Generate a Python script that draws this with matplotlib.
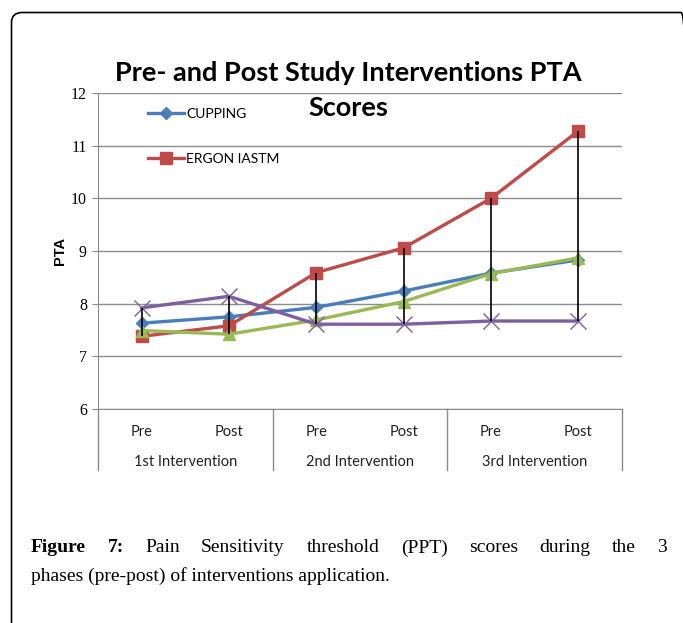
import numpy as np
import matplotlib.pyplot as plt
from matplotlib.patches import FancyBboxPatch
from matplotlib.lines import Line2D
from matplotlib.font_manager import FontProperties

# Данные
phases = ['Pre', 'Post', 'Pre', 'Post', 'Pre', 'Post']
groups = ['1st Intervention', '2nd Intervention', '3rd Intervention']
cupping = [7.63, 7.75, 7.93, 8.24, 8.58, 8.83]
ergon = [7.38, 7.58, 8.59, 9.06, 10.0, 11.28]
green_series = [7.49, 7.42, 7.69, 8.04, 8.57, 8.87]
purple_series = [7.92, 8.14, 7.61, 7.61, 7.67, 7.67]

W, H = 683, 623
fig = plt.figure(figsize=(W / 100, H / 100), dpi=100)


def fx(px):
    return px / W


def fy(py):
    return 1 - py / H


# рамка вокруг рисунка (правый и нижний края за пределами картинки)
frame = FancyBboxPatch((fx(11.5), fy(660)), fx(692) - fx(11.5),
                       fy(12.5) - fy(660),
                       boxstyle='round,pad=0,rounding_size=0.016',
                       transform=fig.transFigure, fill=False,
                       edgecolor='black', linewidth=1.2)
fig.add_artist(frame)

ax = fig.add_axes([fx(98), fy(409), fx(622) - fx(98), fy(93) - fy(409)])
x = np.arange(len(phases))

lw = 2.4
l1, = ax.plot(x, cupping, color='#4A7EBB', lw=lw, marker='D', ms=6,
              label='CUPPING', zorder=4)
l2, = ax.plot(x, ergon, color='#BE4B48', lw=lw, marker='s', ms=8,
              label='ERGON IASTM', zorder=4)
ax.plot(x, green_series, color='#98B954', lw=lw, marker='^', ms=8, zorder=4)
ax.plot(x, purple_series, color='#7D60A0', lw=lw, marker='x', ms=11,
        mew=1.0, zorder=4)

# вертикальные линии максимум-минимум
allv = np.array([cupping, ergon, green_series, purple_series])
ax.vlines(x, allv.min(axis=0), allv.max(axis=0), color='black', lw=1.2,
          zorder=5)

ax.set_xlim(-0.5, 5.5)
ax.set_ylim(6, 12)
ax.set_yticks(range(6, 13))
ax.yaxis.grid(True, color='#8c8c8c', lw=1.0)
ax.set_axisbelow(True)
for s in ['top', 'right']:
    ax.spines[s].set_visible(False)
ax.spines['left'].set_color('#8c8c8c')
ax.spines['bottom'].set_color('#8c8c8c')
ax.set_xticks([])
ax.tick_params(axis='y', length=4, color='#8c8c8c', pad=4)
for lab in ax.get_yticklabels():
    lab.set_family('Liberation Serif')
    lab.set_fontsize(11.5)
ax.set_ylabel('PTA', fontsize=10.5, fontweight='bold',
              family='Liberation Sans', labelpad=3)

# подписи категорий
tr = ax.get_xaxis_transform()
for xi, ph in zip(x, phases):
    ax.text(xi, -0.073, ph, transform=tr, ha='center', va='center',
            fontsize=10.5, family='Lato', color='#222222')
for i, g in enumerate(groups):
    ax.text(2 * i + 0.5, -0.168, g, transform=tr, ha='center', va='center',
            fontsize=10.5, family='Lato', color='#222222')
for sx in [-0.5, 1.5, 3.5, 5.5]:
    ax.add_line(Line2D([sx, sx], [0, -0.193], transform=tr, color='#8c8c8c',
                       lw=1.0, clip_on=False))

leg = ax.legend(handles=[l1, l2], loc='upper left',
                bbox_to_anchor=(0.072, 0.993), frameon=False,
                labelspacing=2.4, handlelength=2.6, handletextpad=0.15,
                prop={'family': 'Lato', 'size': 10})

fig.text(fx(348), fy(73), 'Pre- and Post Study Interventions PTA',
         ha='center', va='center', fontsize=19.5, fontweight='bold',
         family='Lato')
fig.text(fx(348), fy(108), 'Scores',
         ha='center', va='center', fontsize=19.5, fontweight='bold',
         family='Lato')

# подпись рисунка, выровненная по ширине
fig.canvas.draw()
renderer = fig.canvas.get_renderer()
left_px, right_px = 31, 667
cap_size = 14
fp = FontProperties(family='Liberation Serif', size=cap_size)
fpb = FontProperties(family='Liberation Serif', size=cap_size, weight='bold')
words = [('Figure', fpb), ('7:', fpb), ('Pain', fp), ('Sensitivity', fp),
         ('threshold', fp), ('(PPT)', fp), ('scores', fp), ('during', fp),
         ('the', fp), ('3', fp)]
widths = [renderer.get_text_width_height_descent(w, p, ismath=False)[0]
          for w, p in words]
gap = (right_px - left_px - sum(widths)) / (len(words) - 1)
cur = left_px
for (w, p), wd in zip(words, widths):
    fig.text(fx(cur), fy(548), w, fontproperties=p, va='center')
    cur += wd + gap
fig.text(fx(left_px), fy(576),
         'phases (pre-post) of interventions application.',
         fontproperties=fp, va='center')

fig.savefig('out.png', dpi=100)
